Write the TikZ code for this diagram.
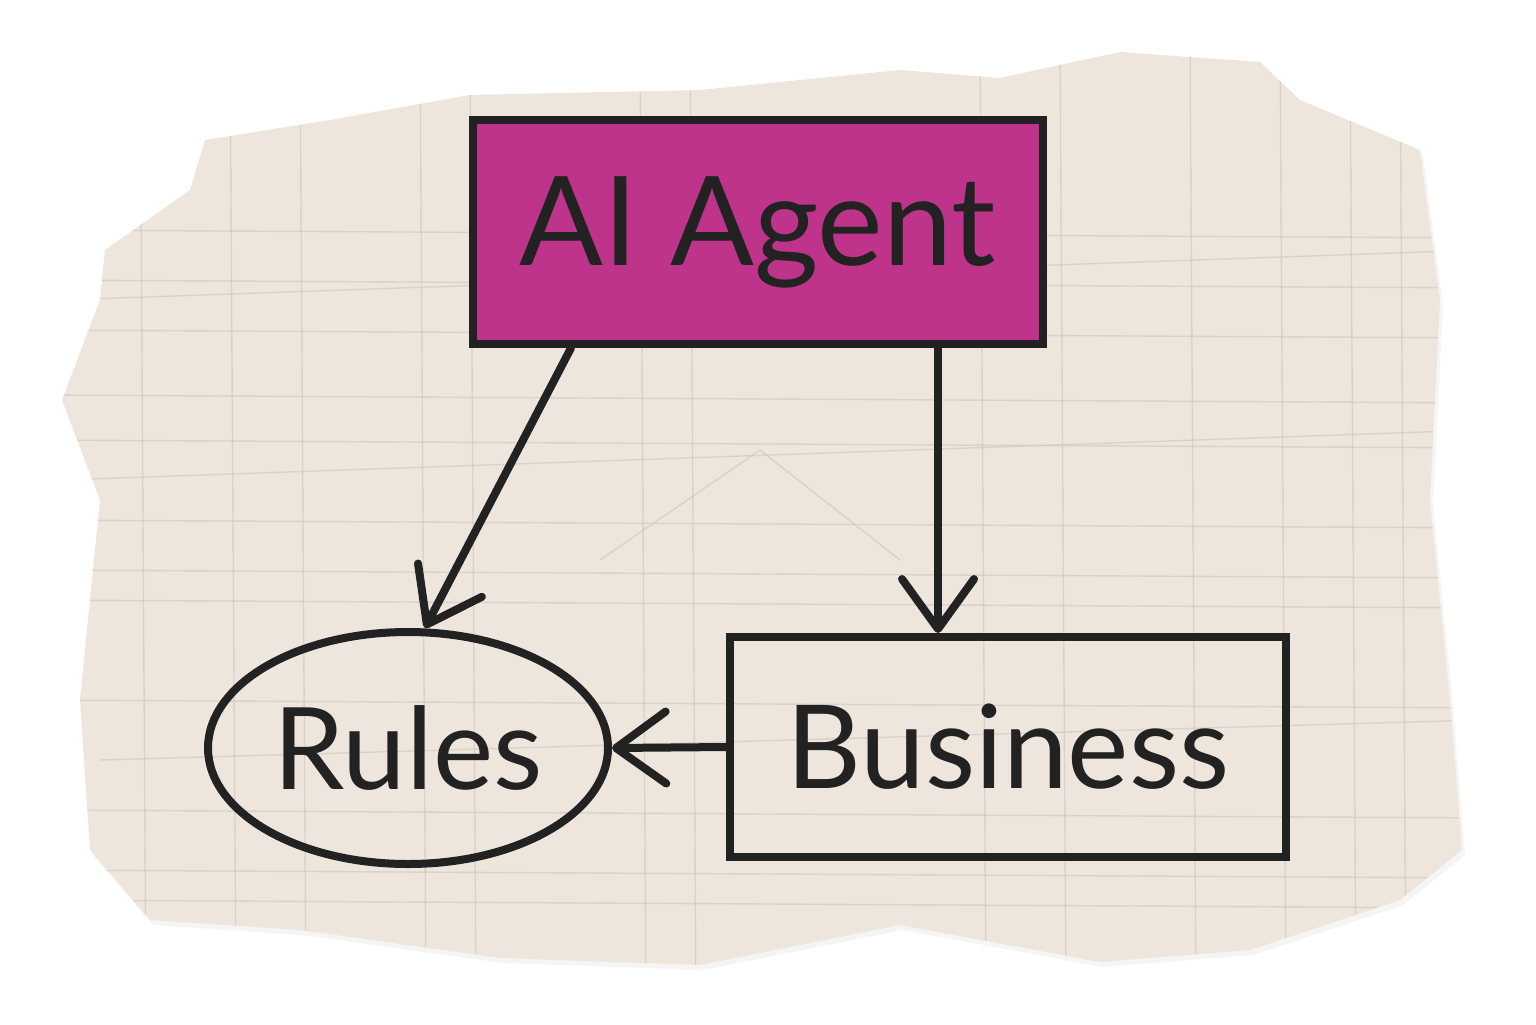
\documentclass[tikz,border=0pt]{standalone}
\usepackage{fontspec}
\setmainfont{Lato}
\usetikzlibrary{arrows.meta,calc,shapes.geometric}
\definecolor{paper}{RGB}{238,230,220}
\definecolor{gridc}{RGB}{205,197,190}
\definecolor{magent}{RGB}{190,52,138}
\definecolor{ink}{RGB}{34,34,34}
\tikzset{
  box/.style={draw=ink,line width=4pt,minimum width=285pt,minimum height=112pt,inner sep=0pt,font=\fontsize{62}{70}\selectfont,text=ink},
  oval/.style={draw=ink,line width=4pt,ellipse,minimum width=200pt,minimum height=116pt,inner sep=0pt,font=\fontsize{57}{70}\selectfont,text=ink},
  arr/.style={draw=ink,line width=4pt,line cap=round,-{Straight Barb[length=25pt,width=36pt,line cap=round,line join=round]}},
  gl/.style={gridc,line width=0.7pt,opacity=0.6}
}
\begin{document}
\begin{tikzpicture}[x=0.5pt,y=-0.5pt]
\useasboundingbox (0,0) rectangle (1536,1024);
\fill[white] (0,0) rectangle (1536,1024);
\def\patch{(105,250) -- (190,190) -- (205,140) -- (330,120) -- (470,95) -- (700,90) -- (900,70) -- (1000,78) -- (1120,52) -- (1260,62) -- (1300,100) -- (1420,150) -- (1440,300) -- (1430,500) -- (1450,700) -- (1462,850) -- (1400,900) -- (1250,950) -- (1100,962) -- (900,925) -- (700,965) -- (500,958) -- (300,930) -- (150,920) -- (90,850) -- (80,700) -- (100,500) -- (62,400) -- (100,300) -- cycle}
\fill[black!4] [shift={(3,5)}] \patch;
\fill[paper] \patch;
\begin{scope}
\clip \patch;
\foreach \x in {140,230,300,420,470,640,690,980,1060,1190,1280,1350,1400}
  \draw[gl] (\x,40) -- (\x+6,1000);
\foreach \y in {230,280,330,395,440,520,570,600,700,810,870,900}
  \draw[gl] (40,\y) -- (1500,\y+8);
\draw[gl] (60,300) -- (1480,250);
\draw[gl] (60,480) -- (1480,430);
\draw[gl] (600,560) -- (760,450) -- (900,560);
\draw[gl] (100,760) -- (1480,720);
\end{scope}
\node[box,fill=magent] (agent) at (758,232) {AI Agent};
\node[oval] (rules) at (408,748) {Rules};
\node[box,minimum width=278pt,minimum height=110pt,font=\fontsize{58}{70}\selectfont] (business) at (1008,747) {Business};
\coordinate (a1) at ($(agent.south west)+(102,0)$);
\coordinate (a2) at ($(agent.south west)+(469,0)$);
\coordinate (r1) at ($(rules.north)+(17,0)$);
\draw[arr] (a1) -- (r1);
\draw[arr] (a2) -- (a2 |- business.north);
\draw[arr] (business.west) -- (rules.east);
\end{tikzpicture}
\end{document}
